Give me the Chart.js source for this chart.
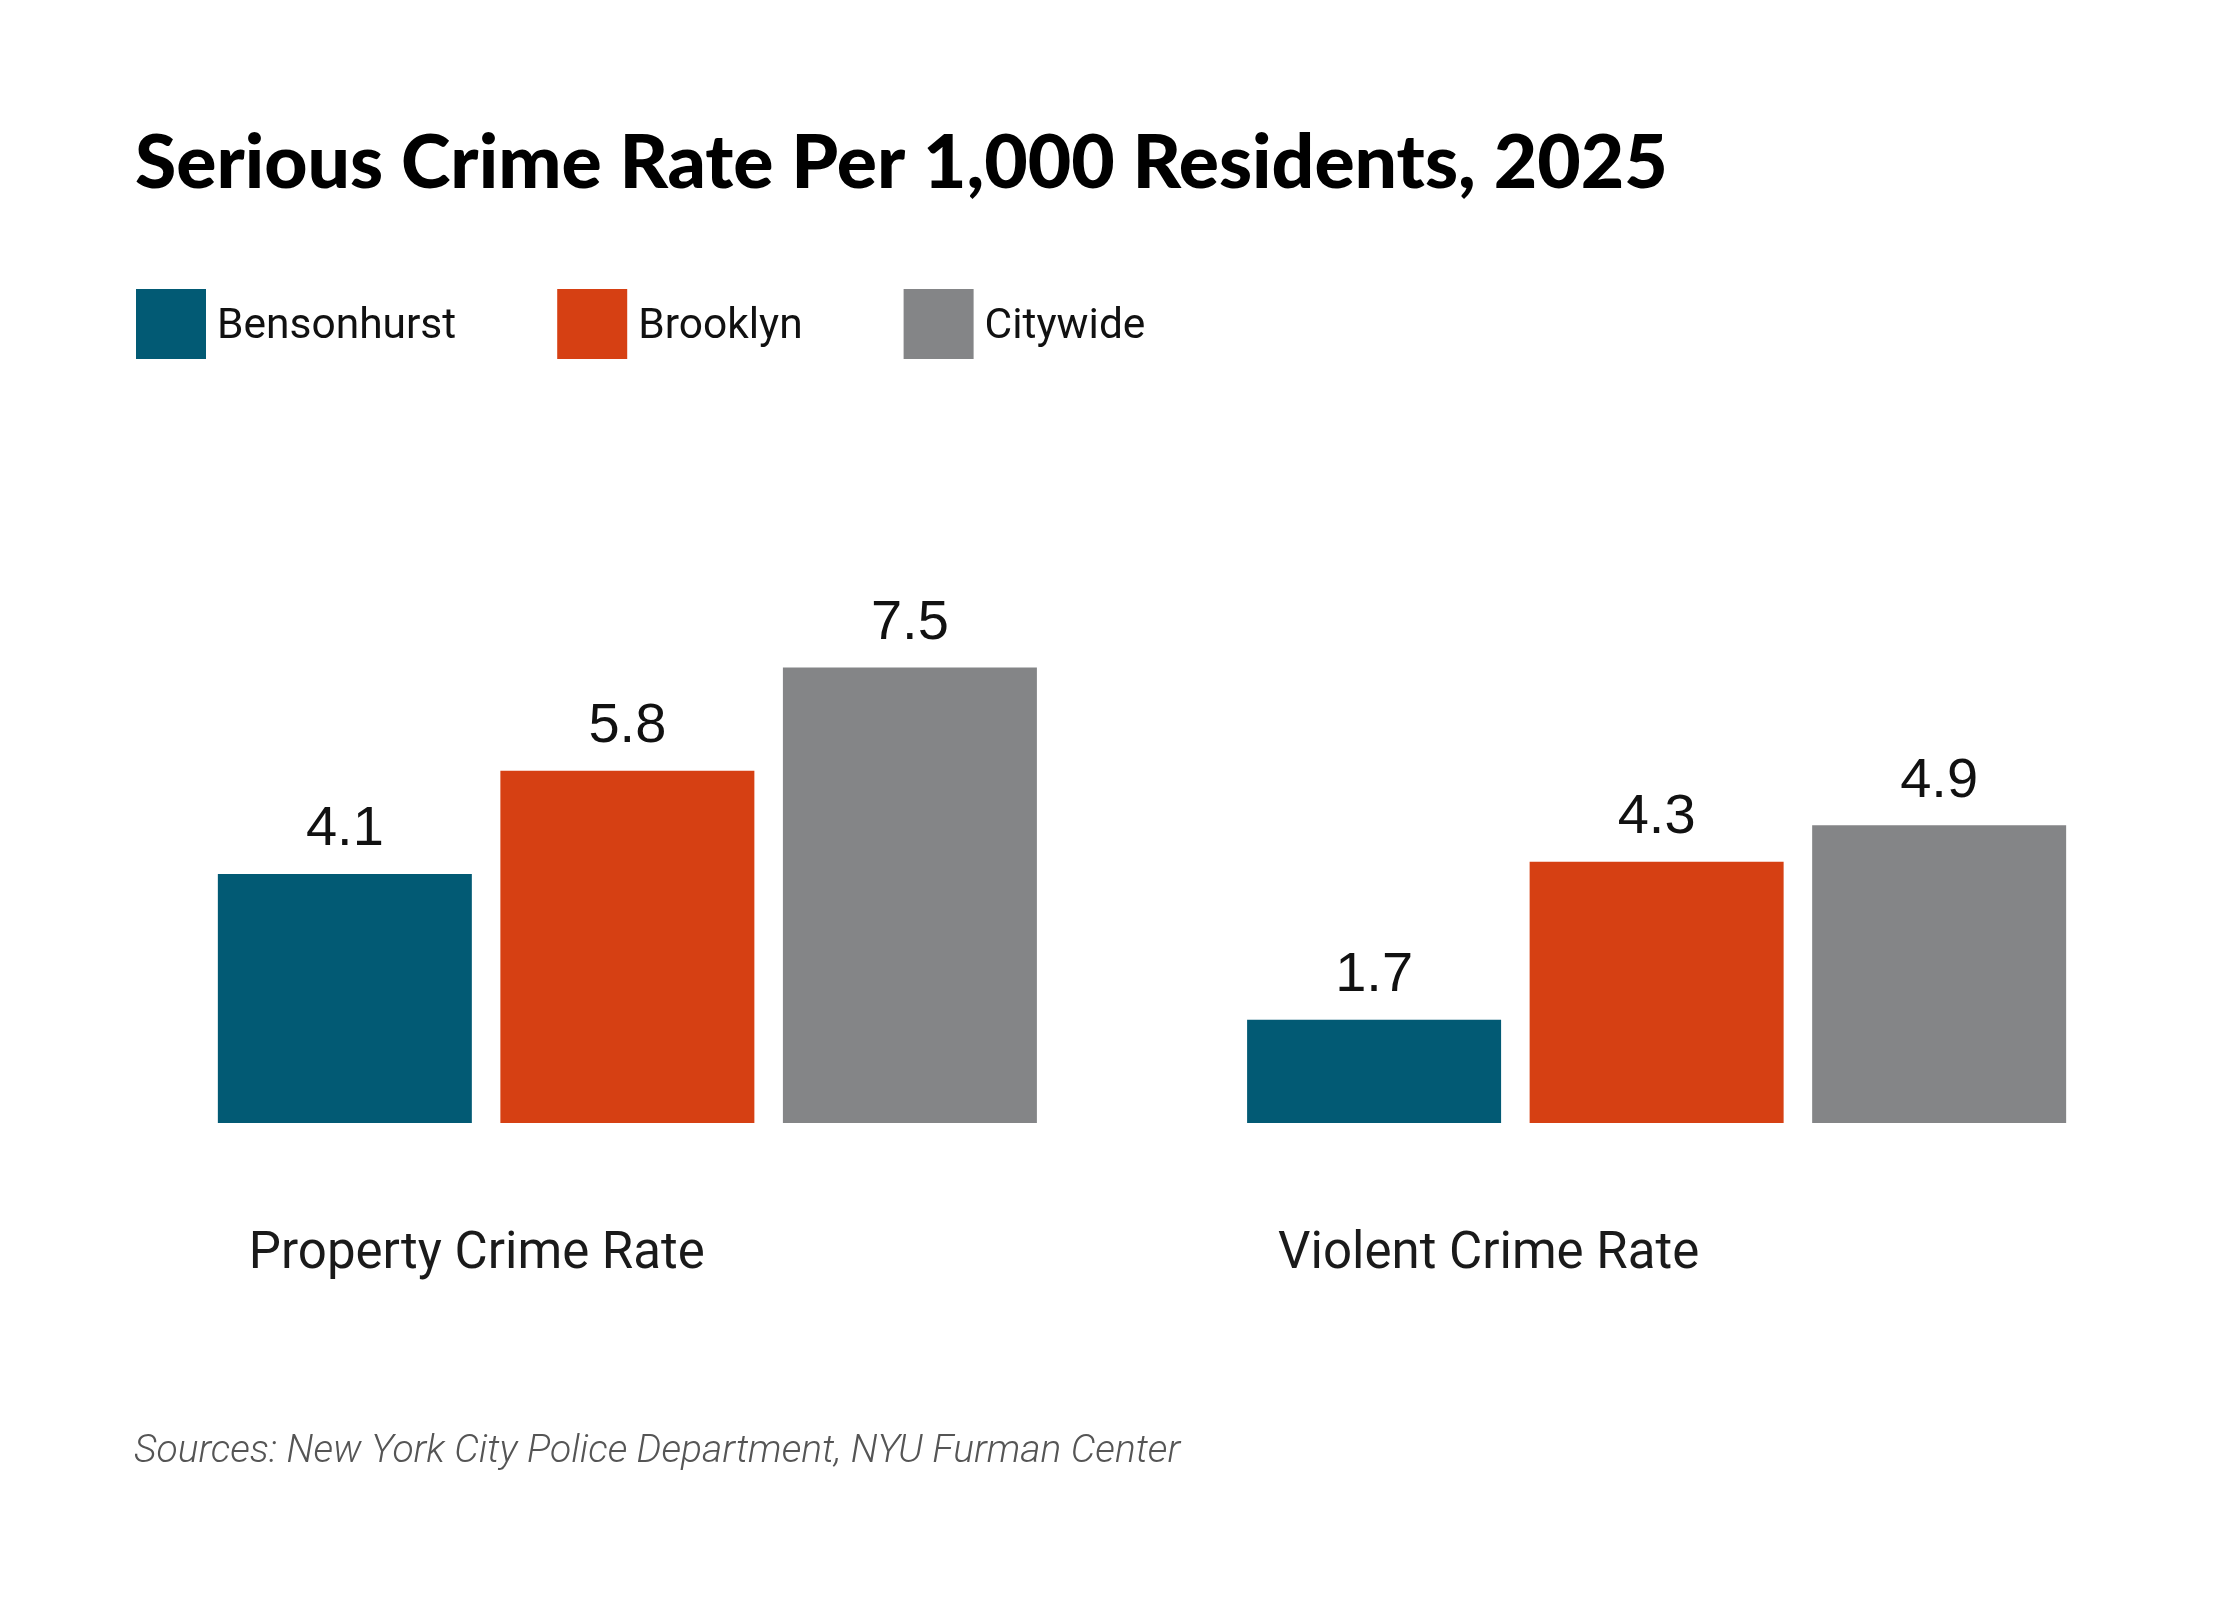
<!DOCTYPE html>
<html>
<head>
<meta charset="utf-8">
<script src="https://cdn.jsdelivr.net/npm/chart.js@4.4.1/dist/chart.umd.min.js"></script>
<style>
  html, body { margin: 0; padding: 0; background: #ffffff; }
  #wrap { position: relative; width: 2240px; height: 1600px; }
  canvas { display: block; }
</style>
</head>
<body>
<div id="wrap"><canvas id="c" width="2240" height="1600"></canvas></div>
<script>
// ---- data ----
const categories = ['Property Crime Rate', 'Violent Crime Rate'];
const seriesNames = ['Bensonhurst', 'Brooklyn', 'Citywide'];
const bensonhurst = [4.1, 1.7];
const brooklyn = [5.8, 4.3];
const citywide = [7.5, 4.9];
const titleText = 'Serious Crime Rate Per 1,000 Residents, 2025';
const sourceText = 'Sources: New York City Police Department, NYU Furman Center';

// ---- styles ----
const colors = ['#025a74', '#d64013', '#848587'];

const annotate = {
  id: 'annotate',
  afterDraw(chart) {
    const ctx = chart.ctx;
    ctx.save();
    ctx.textBaseline = 'alphabetic';

    // title
    ctx.fillStyle = '#000000';
    ctx.textAlign = 'left';
    ctx.font = '900 75px Lato';
    ctx.fillText(titleText, 135, 188);

    // legend
    ctx.font = '42.5px Roboto';
    let lx = 136;
    chart.data.datasets.forEach((ds) => {
      ctx.fillStyle = ds.backgroundColor;
      ctx.fillRect(lx, 289, 70, 70);
      ctx.fillStyle = '#111111';
      ctx.fillText(ds.label, lx + 81, 338);
      lx += 81 + ctx.measureText(ds.label).width + 101;
    });

    // value labels
    ctx.textAlign = 'center';
    ctx.fillStyle = '#111111';
    ctx.font = '56px "Liberation Sans"';
    chart.data.datasets.forEach((ds, di) => {
      const meta = chart.getDatasetMeta(di);
      meta.data.forEach((bar, i) => {
        ctx.fillText(ds.data[i].toFixed(1), bar.x, bar.y - 28.5);
      });
    });

    // category labels
    ctx.textAlign = 'left';
    ctx.fillStyle = '#1a1a1a';
    ctx.font = '51px Roboto';
    const m0 = chart.getDatasetMeta(0);
    categories.forEach((c, i) => {
      const bar = m0.data[i];
      ctx.fillText(c, bar.x - bar.width / 2 + 31, 1268);
    });

    // source
    ctx.fillStyle = '#555555';
    ctx.font = 'italic 300 39px Roboto';
    ctx.fillText(sourceText, 134, 1462);

    ctx.restore();
  }
};

new Chart(document.getElementById('c'), {
  type: 'bar',
  data: {
    labels: categories,
    datasets: [
      { label: seriesNames[0], data: bensonhurst, backgroundColor: colors[0] },
      { label: seriesNames[1], data: brooklyn, backgroundColor: colors[1] },
      { label: seriesNames[2], data: citywide, backgroundColor: colors[2] }
    ]
  },
  options: {
    responsive: false,
    devicePixelRatio: 1,
    animation: false,
    datasets: { bar: { barPercentage: 0.899, categoryPercentage: 0.8235, borderWidth: 0 } },
    layout: { padding: { left: 112.75, right: 68.75, top: 515.5, bottom: 477 } },
    scales: {
      x: { display: false, offset: true },
      y: { display: false, min: 0, max: 10 }
    },
    plugins: { legend: { display: false }, tooltip: { enabled: false }, title: { display: false } }
  },
  plugins: [annotate]
});
</script>
</body>
</html>
